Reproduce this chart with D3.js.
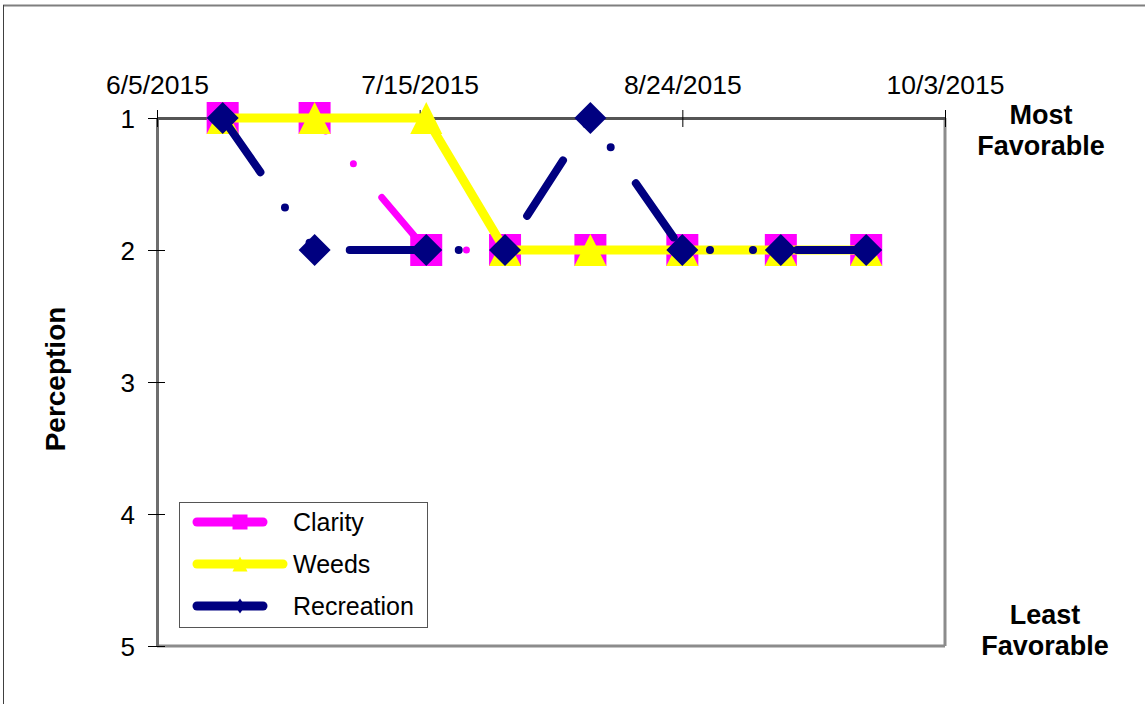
<!DOCTYPE html>
<html>
<head>
<meta charset="utf-8">
<script src="https://cdn.jsdelivr.net/npm/d3@7"></script>
<style>
  html, body { margin: 0; padding: 0; background: #fff; }
  svg { display: block; font-family: "Liberation Sans", Arial, sans-serif; }
</style>
</head>
<body>
<svg id="chart" width="1145" height="704"></svg>
<script>
// ---- data ----
const dates = ["2015-06-15", "2015-06-29", "2015-07-16", "2015-07-28", "2015-08-10", "2015-08-24", "2015-09-08", "2015-09-21"];
const clarity = [1, 1, 2, 2, 2, 2, 2, 2];
const weeds = [1, 1, 1, 2, 2, 2, 2, 2];
const recreation = [1, 2, 2, 2, 1, 2, 2, 2];
const seriesNames = ["Clarity", "Weeds", "Recreation"];
const xTickDates = ["2015-06-05", "2015-07-15", "2015-08-24", "2015-10-03"];
const yTicks = [1, 2, 3, 4, 5];
const topLabel = ["Most", "Favorable"];
const bottomLabel = ["Least", "Favorable"];
const yTitle = "Perception";

// ---- setup ----
const parse = d3.timeParse("%Y-%m-%d");
const fmt = d3.timeFormat("%-m/%-d/%Y");
const svg = d3.select("#chart");
const L = 157, R = 945, T = 118, B = 646;

const x = d3.scaleTime().domain([parse(xTickDates[0]), parse(xTickDates[xTickDates.length - 1])]).range([L, R]);
const y = d3.scaleLinear().domain([1, 5]).range([T, B]);

// outer frame
svg.append("line").attr("x1", 3).attr("x2", 1145).attr("y1", 5.5).attr("y2", 5.5).attr("stroke", "#7f7f7f").attr("stroke-width", 2);
svg.append("line").attr("x1", 3.5).attr("x2", 3.5).attr("y1", 5).attr("y2", 704).attr("stroke", "#404040").attr("stroke-width", 1);

// plot border (right and bottom)
svg.append("line").attr("x1", L).attr("x2", R).attr("y1", B).attr("y2", B).attr("stroke", "#8c8c8c").attr("stroke-width", 3);
svg.append("line").attr("x1", R).attr("x2", R).attr("y1", T).attr("y2", B).attr("stroke", "#8c8c8c").attr("stroke-width", 3);

// y axis
const yAxis = svg.append("g").attr("transform", `translate(${L},0)`)
  .call(d3.axisLeft(y).tickValues(yTicks).tickFormat(d3.format("d")).tickSizeInner(9).tickSizeOuter(0).tickPadding(13));
yAxis.select(".domain").attr("stroke", "#6e6e6e").attr("stroke-width", 3);
yAxis.selectAll(".tick line").attr("stroke", "#000").attr("stroke-width", 1).attr("x2", 8).attr("x1", -9);
yAxis.selectAll(".tick text").attr("font-size", 26).attr("fill", "#000").attr("font-family", "Liberation Sans, Arial, sans-serif").attr("dy", "0.35em");

// x axis on top
const xAxis = svg.append("g").attr("transform", `translate(0,${T})`)
  .call(d3.axisTop(x).tickValues(xTickDates.map(parse)).tickFormat(fmt).tickSizeInner(8).tickSizeOuter(0).tickPadding(16));
xAxis.select(".domain").attr("stroke", "#555").attr("stroke-width", 3);
xAxis.selectAll(".tick line").attr("stroke", "#000").attr("stroke-width", 1).attr("y1", 9).attr("y2", -8);
xAxis.selectAll(".tick text").attr("font-size", 26.5).attr("fill", "#000").attr("font-family", "Liberation Sans, Arial, sans-serif");

// ---- series ----
const dashDotDot = "66 43 0 43 0 44";
const styles = [
  { values: clarity, color: "#ff00ff", width: 7, dash: dashDotDot, marker: "square" },
  { values: weeds, color: "#ffff00", width: 9, dash: null, marker: "triangle" },
  { values: recreation, color: "#000080", width: 8, dash: dashDotDot, marker: "diamond" }
];

function markerPath(type, w, h) {
  const p = d3.path();
  if (type === "square") { p.rect(-w / 2, -h / 2, w, h); }
  else if (type === "triangle") { p.moveTo(0, -h / 2); p.lineTo(w / 2, h / 2); p.lineTo(-w / 2, h / 2); p.closePath(); }
  else { p.moveTo(0, -h / 2); p.lineTo(w / 2, 0); p.lineTo(0, h / 2); p.lineTo(-w / 2, 0); p.closePath(); }
  return p.toString();
}

const line = d3.line().x(d => x(d.date)).y(d => y(d.v));

styles.forEach((s, i) => {
  const pts = dates.map((d, j) => ({ date: parse(d), v: s.values[j] }));
  const g = svg.append("g").attr("class", "series-" + seriesNames[i]);
  g.append("path").datum(pts).attr("d", line)
    .attr("fill", "none").attr("stroke", s.color).attr("stroke-width", s.width)
    .attr("stroke-linecap", "round").attr("stroke-linejoin", "round")
    .attr("stroke-dasharray", s.dash);
  g.selectAll("path.m").data(pts).join("path").attr("class", "m")
    .attr("transform", d => `translate(${x(d.date)},${y(d.v)})`)
    .attr("d", markerPath(s.marker, 32, 32))
    .attr("fill", s.color);
});

// ---- side labels ----
svg.append("text").attr("transform", "translate(65,379) rotate(-90)")
  .attr("text-anchor", "middle").attr("font-size", 28).attr("font-weight", "bold").text(yTitle);

const tl = svg.append("text").attr("text-anchor", "middle").attr("font-size", 27).attr("font-weight", "bold");
topLabel.forEach((t, i) => tl.append("tspan").attr("x", 1041).attr("y", 124 + i * 31).text(t));
const bl = svg.append("text").attr("text-anchor", "middle").attr("font-size", 27).attr("font-weight", "bold");
bottomLabel.forEach((t, i) => bl.append("tspan").attr("x", 1045).attr("y", 624 + i * 31).text(t));

// ---- legend ----
const lg = svg.append("g").attr("class", "legend");
lg.append("rect").attr("x", 179.5).attr("y", 502.5).attr("width", 248).attr("height", 125)
  .attr("fill", "#fff").attr("stroke", "#555").attr("stroke-width", 1);
styles.forEach((s, i) => {
  const yy = 522 + i * 42;
  lg.append("line").attr("x1", 197).attr("x2", 283).attr("y1", yy).attr("y2", yy)
    .attr("stroke", s.color).attr("stroke-width", 9).attr("stroke-linecap", "round")
    .attr("stroke-dasharray", s.dash);
  lg.append("path").attr("transform", `translate(240,${yy})`)
    .attr("d", markerPath(s.marker, s.marker === "diamond" ? 10 : 15, 15)).attr("fill", s.color);
  lg.append("text").attr("x", 293).attr("y", yy + 9).attr("font-size", 25).attr("fill", "#000").text(seriesNames[i]);
});
</script>
</body>
</html>
